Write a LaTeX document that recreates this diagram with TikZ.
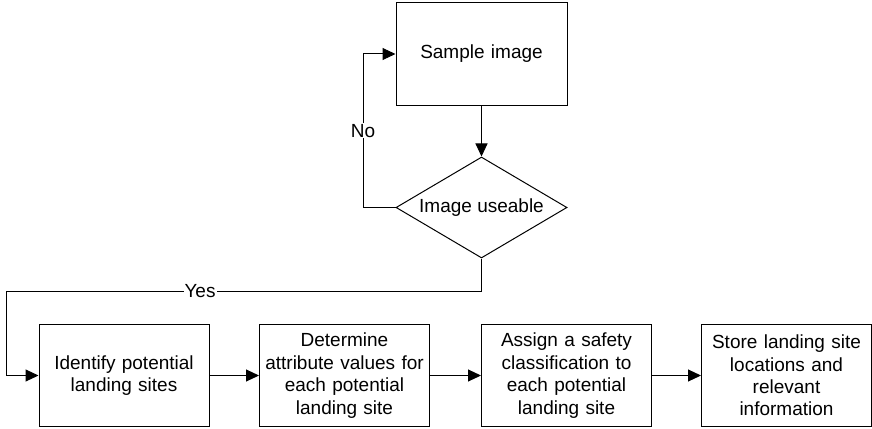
\documentclass[tikz,border=0pt]{standalone}
\usepackage{fontspec}
\setmainfont{Liberation Sans}
\usetikzlibrary{shapes.geometric,arrows.meta}
\begin{document}
\begin{tikzpicture}[x=1pt,y=-1pt,
  txt/.style={font=\fontsize{19}{22.4}\selectfont},
  box/.style={txt, draw, line width=1pt, minimum width=170pt, minimum height=102pt, align=center, inner sep=0pt, text width=162pt},
  dia/.style={txt, draw, line width=1pt, shape=diamond, aspect=1.69, minimum width=171pt, minimum height=101pt, inner sep=0pt},
  conn/.style={line width=1pt, -{Triangle[length=13pt,width=12pt]}},
  plain/.style={line width=1pt},
  lbl/.style={txt, fill=white, inner sep=1pt}]
\useasboundingbox (0,0) rectangle (872,428);
\node[box, minimum width=171pt] (sample) at (481.5,54) {Sample image};
\node[dia] (use) at (481.5,207.5) {Image useable};
\node[box] (b1) at (124,375.5) {Identify potential\\landing sites};
\node[box] (b2) at (344.5,375.5) {Determine\\attribute values for\\each potential\\landing site};
\node[box] (b3) at (566.5,375.5) {Assign a safety\\classification to\\each potential\\landing site};
\node[box] (b4) at (786.5,375.5) {Store landing site\\locations and\\relevant\\information};
\coordinate (nocorner) at (363,207.5);
\coordinate (yescorner) at (6,291);
\draw[conn] (sample) -- (use);
\draw[conn] (use.west) -- (nocorner) |- node[lbl, pos=0.25] {No} (sample.west);
\draw[conn] (use.south) |- (yescorner) |- (b1.west);
\node[lbl] (yes) at (200,291) {Yes};
\draw[conn] (b1) -- (b2);
\draw[conn] (b2) -- (b3);
\draw[conn] (b3) -- (b4);
\end{tikzpicture}
\end{document}
